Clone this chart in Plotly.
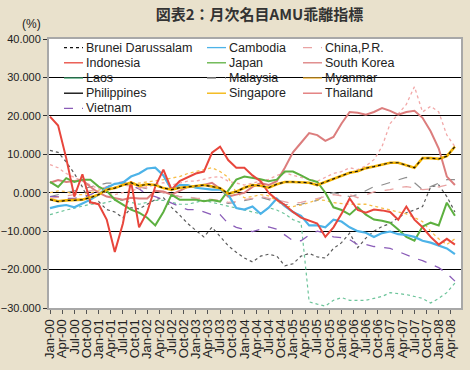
import plotly.graph_objects as go

# month index (0 = Jan-00), sampled every two months up to May-08
months = list(range(0, 101, 2))

tick_pos = list(range(0, 100, 3))
tick_labels = ["Jan-00", "Apr-00", "Jul-00", "Oct-00", "Jan-01", "Apr-01", "Jul-01", "Oct-01",
               "Jan-02", "Apr-02", "Jul-02", "Oct-02", "Jan-03", "Apr-03", "Jul-03", "Oct-03",
               "Jan-04", "Apr-04", "Jul-04", "Oct-04", "Jan-05", "Apr-05", "Jul-05", "Oct-05",
               "Jan-06", "Apr-06", "Jul-06", "Oct-06", "Jan-07", "Apr-07", "Jul-07", "Oct-07",
               "Jan-08", "Apr-08"]

brunei = [-1.8, -2.3, -2.0, -2.0, -1.8, -1.3, -0.5, 0.8, 1.2, 2.0, 2.6, 1.8, 2.2, 2.0, 1.2, 0.8,
          1.3, 1.5, 1.8, 2.0, 1.6, 1.2, -0.3, 0.3, 1.3, 2.0, 1.8, 1.3, 2.2, 2.8, 2.8, 2.7, 2.6,
          2.0, 2.8, 3.5, 4.5, 5.2, 5.6, 6.4, 6.8, 7.3, 7.8, 7.8, 7.2, 6.5, 9.0, 9.0, 8.8, 9.5, 12.0]
singapore = [-1.7, -2.2, -2.0, -1.9, -1.8, -1.2, -0.5, 0.8, 1.2, 2.0, 2.6, 1.8, 2.2, 2.0, 1.2, 0.8,
             1.3, 1.5, 1.8, 2.0, 1.6, 1.2, -0.3, 0.3, 1.3, 2.0, 1.8, 1.3, 2.2, 2.8, 2.8, 2.7, 2.6,
             2.0, 2.8, 3.5, 4.5, 5.2, 5.6, 6.4, 6.8, 7.3, 7.8, 7.8, 7.2, 6.5, 9.0, 9.0, 8.8, 9.5, 12.0]
cambodia = [-4.0, -3.5, -3.2, -3.8, -2.8, -1.8, -0.5, 1.3, 2.3, 2.6, 4.2, 5.0, 6.3, 6.5, 4.5, 0.8,
            2.0, 2.0, 1.3, 1.0, 0.8, 0.8, -0.5, -4.0, -4.4, -3.6, -5.5, -3.9, -1.5, -3.5, -5.0, -6.0,
            -8.5, -8.5, -9.0, -7.0, -7.5, -9.0, -10.0, -10.4, -11.5, -10.5, -10.1, -10.8, -11.0,
            -11.5, -12.5, -13.0, -13.8, -14.5, -16.0]
china = [-1.5, -1.2, -0.8, -0.5, 0.0, 0.5, 1.0, 1.5, 2.0, 2.0, 1.8, 1.5, 1.2, 0.5, 0.0, -0.5,
         -1.0, -1.0, -1.5, -1.5, -1.8, -2.0, -2.5, -2.3, -1.8, -1.5, -1.0, -1.5, -2.0, -2.5, -2.8,
         -2.5, -2.0, -1.5, -1.0, -0.5, -0.8, -0.5, -1.3, -0.5, 0.2, 0.5, 0.8, 1.3, 1.6, 1.2, 0.8,
         1.0, 1.5, 2.0, 2.5]
indonesia = [19.8, 17.5, 9.0, -1.0, 4.8, -2.5, -3.0, -7.0, -15.4, -8.0, 3.0, -9.0, -5.0, 1.6, 6.0,
             0.8, 3.0, 4.0, 5.0, 5.5, 10.4, 12.0, 8.5, 6.5, 6.5, 4.5, 3.0, 0.0, -1.8, -3.2, -5.0,
             -6.5, -7.2, -8.0, -11.5, -9.0, -5.5, -1.5, -4.5, -5.2, -4.4, -4.6, -5.0, -7.0, -3.6,
             -7.0, -9.0, -11.5, -13.5, -12.0, -13.5]
japan = [2.8, 1.5, 3.8, 2.8, 3.4, 3.4, 1.6, 0.5, -1.8, -3.0, -4.4, -5.2, -6.5, -8.5, -5.0, -0.5,
         -1.8, -1.8, -1.8, -2.2, -1.9, -2.3, 0.5, 3.4, 4.2, 3.9, 3.5, 3.0, 3.4, 5.5, 5.5, 4.5, 3.4,
         2.8, 0.0, -3.8, -4.5, -5.7, -3.8, -5.7, -7.0, -7.3, -7.8, -9.6, -11.5, -12.5, -8.8, -7.8,
         -8.5, -2.6, -6.0]
korea = [2.6, 3.3, 2.8, 3.0, 3.3, 1.5, 0.0, -1.0, -1.5, -1.8, -1.3, -1.5, -1.5, 0.5, 0.3, -0.5,
         0.5, 1.5, 1.5, 2.0, 2.6, 1.0, -1.0, -0.5, 0.0, 1.5, 2.5, 2.0, 3.0, 6.5, 10.5, 13.0, 15.5,
         15.0, 13.5, 14.5, 18.0, 21.0, 20.8, 20.3, 21.0, 22.0, 21.3, 20.3, 21.0, 21.3, 19.5, 16.0,
         11.5, 4.2, 2.0]
laos = [-5.7, -5.0, -4.5, -4.0, -3.5, -3.0, -3.0, -2.5, -2.0, -2.0, -2.5, -3.0, -2.5, -2.0, -2.0,
        -2.5, -3.0, -3.0, -2.5, -2.0, -2.5, -3.0, -3.5, -4.0, -4.5, -5.0, -5.5, -3.9, -4.5, -5.5,
        -7.0, -7.8, -28.4, -29.0, -29.5, -28.0, -27.3, -28.0, -28.0, -28.0, -27.5, -27.0, -26.0,
        -26.3, -26.5, -27.0, -27.5, -28.7, -27.5, -26.0, -23.5]
malaysia = [-1.0, -0.5, 0.0, 0.5, 1.0, 1.5, 2.0, 2.5, 2.5, 2.5, 2.0, 1.5, 1.0, 0.5, 0.0, -0.5,
            -1.0, -1.2, -1.5, -1.8, -2.0, -2.2, -2.8, -2.5, -2.0, -1.5, -1.2, -1.8, -2.3, -3.0,
            -3.2, -3.0, -2.5, -2.0, -0.5, 0.0, -0.5, -1.0, -0.5, 0.5, 1.6, 2.0, 2.6, 3.4, 4.0, 2.6,
            0.8, 1.6, 2.6, 3.4, 3.4]
myanmar = [0.0, 0.5, 0.3, -0.5, -0.5, 0.0, 0.5, 1.0, 1.5, 2.0, 2.5, 2.5, 2.8, 3.0, 3.4, 3.8, 4.2,
           5.0, 5.5, 6.0, 6.5, 5.5, 4.0, 0.0, -1.3, -1.0, -0.5, -0.8, -2.0, -3.6, -3.6, -3.2, -2.6,
           -1.8, -2.0, -2.6, -2.8, -3.0, -3.0, -3.0, -3.5, -4.0, -4.5, -5.0, -5.5, -6.5, -7.5,
           -10.0, -12.0, -13.5, -12.0]
philippines = [11.0, 10.5, 8.0, 5.0, 1.5, -3.0, -2.3, -4.4, -5.0, -6.5, -3.9, -4.2, -3.0, -1.8,
               -1.3, -3.8, -5.8, -8.0, -9.8, -11.5, -9.0, -11.5, -13.8, -15.5, -17.0, -18.0, -16.5,
               -16.0, -16.5, -19.0, -18.5, -16.5, -15.8, -16.7, -17.0, -14.5, -13.0, -10.5, -14.3,
               -11.8, -10.0, -8.8, -8.0, -6.5, -5.2, -4.5, -3.6, 1.5, 2.0, -1.0, -5.0]
thailand = [7.3, 6.5, 5.0, 4.0, 3.0, 2.0, 1.0, 0.0, -0.5, 0.0, 0.5, 1.0, 1.5, 2.0, 2.6, 2.0, 2.5,
            3.0, 3.0, 3.5, 4.0, 4.2, 3.0, 2.5, 2.0, 2.5, 3.0, 3.5, 4.5, 5.2, 4.5, 4.0, 3.5, 3.0,
            4.0, 5.0, 5.5, 6.5, 6.0, 7.0, 8.6, 12.0, 18.0, 20.5, 23.0, 27.6, 21.0, 22.5, 21.0,
            15.0, 12.0]
vietnam = [-1.0, -1.0, -1.5, -1.5, -1.0, -0.5, 0.5, 1.5, 2.5, 2.8, 2.0, 1.0, -0.5, -1.0, -1.8,
           -2.8, -3.6, -4.4, -4.4, -5.0, -5.7, -5.7, -8.0, -9.0, -9.6, -10.1, -9.5, -8.9, -9.5,
           -10.9, -12.5, -12.5, -11.0, -10.0, -10.5, -11.5, -11.7, -12.2, -13.5, -13.5, -14.0,
           -14.2, -14.5, -15.3, -16.2, -17.0, -17.7, -18.5, -19.5, -21.0, -23.0]

# name, values, colour, width, dash  (legend order: row-major, 3 columns)
series = [
    ("Brunei Darussalam", brunei, "#111111", 1.2, "dot"),
    ("Cambodia", cambodia, "#4DB3E8", 2.2, "solid"),
    ("China,P.R.", china, "#E9A3A3", 1.3, "dash"),
    ("Indonesia", indonesia, "#E8463C", 2.0, "solid"),
    ("Japan", japan, "#5DB040", 2.0, "solid"),
    ("South Korea", korea, "#DC7D7D", 2.0, "solid"),
    ("Laos", laos, "#6CC49A", 1.2, "dot"),
    ("Malaysia", malaysia, "#8E8E8E", 1.2, "dash"),
    ("Myanmar", myanmar, "#F7BE4A", 1.3, "dot"),
    ("Philippines", philippines, "#5A5A5A", 1.2, "dot"),
    ("Singapore", singapore, "#F2B200", 2.6, "solid"),
    ("Thailand", thailand, "#F2A8A8", 1.3, "dot"),
    ("Vietnam", vietnam, "#8A5CB8", 1.3, "dash"),
]

# legend key styles (as drawn in the reference legend)
legend_style = {
    "Brunei Darussalam": ("#111111", "dot"), "Cambodia": ("#4DB3E8", "solid"),
    "China,P.R.": ("#E9A3A3", "dash"), "Indonesia": ("#E8463C", "solid"),
    "Japan": ("#5DB040", "solid"), "South Korea": ("#DC7D7D", "solid"),
    "Laos": ("#3FA070", "solid"), "Malaysia": ("#8E8E8E", "dash"),
    "Myanmar": ("#F0B030", "solid"), "Philippines": ("#000000", "solid"),
    "Singapore": ("#F2B200", "solid"), "Thailand": ("#E07070", "solid"),
    "Vietnam": ("#8A5CB8", "dash"),
}

draw_order = ["Laos", "Philippines", "Malaysia", "Vietnam", "China,P.R.", "Thailand", "Myanmar",
              "South Korea", "Japan", "Cambodia", "Indonesia", "Singapore", "Brunei Darussalam"]

fig = go.Figure()
lookup = {s[0]: s for s in series}
for name in draw_order:
    nm, vals, col, w, dash = lookup[name]
    fig.add_trace(go.Scatter(
        x=months, y=vals, name=nm, mode="lines",
        line=dict(color=col, width=w, dash=dash), showlegend=False,
    ))

# plot-area geometry in pixels (for the hand-laid legend block)
W, H = 470, 370
ML, MR, MT, MB = 49, 9, 39, 62
PW, PH = W - ML - MR, H - MT - MB


def px_x(p):
    return (p - ML) / PW


def px_y(p):
    return 1 - (p - MT) / PH


col_line_x = [64, 207, 303]
row_y0, row_dy = 47.6, 15.2

shapes = [dict(type="rect", xref="paper", yref="y", x0=0.0, x1=px_x(381), y0=29.0, y1=31.0,
               fillcolor="#FFFFFF", line=dict(width=0), layer="between")]
annotations = [dict(text="(%)", xref="paper", yref="paper", x=px_x(31), y=px_y(24),
                    xanchor="center", yanchor="middle",
                    showarrow=False, font=dict(size=12, color="#222222"))]
for i, (nm, *_rest) in enumerate(series):
    r, c = divmod(i, 3)
    yy = px_y(row_y0 + r * row_dy)
    x0 = col_line_x[c]
    lc, ld = legend_style[nm]
    shapes.append(dict(type="line", xref="paper", yref="paper", x0=px_x(x0), x1=px_x(x0 + 19),
                       y0=yy, y1=yy, line=dict(color=lc, width=1.3, dash=ld), layer="above"))
    annotations.append(dict(text=nm, xref="paper", yref="paper", x=px_x(x0 + 20), y=yy,
                            xanchor="left", yanchor="middle", showarrow=False,
                            font=dict(size=12.5, color="#222222")))

fig.update_layout(
    width=W, height=H,
    margin=dict(l=ML, r=MR, t=MT, b=MB, autoexpand=False),
    paper_bgcolor="#E9E1CC",
    plot_bgcolor="#FFFFFF",
    showlegend=False,
    font=dict(family="Liberation Sans, Arial, sans-serif", color="#222222"),
    title=dict(text="<b>図表2：月次名目AMU乖離指標</b>", x=0.552, xanchor="center",
               y=0.96, yanchor="middle",
               font=dict(family="Noto Sans CJK JP", size=15, color="#333333")),
    xaxis=dict(range=[-0.25, 101.5], tickmode="array", tickvals=tick_pos, ticktext=tick_labels,
               tickangle=-90, tickfont=dict(size=13, color="#222222"),
               ticks="outside", ticklen=4, tickcolor="#555555", automargin=False,
               showgrid=False, zeroline=False,
               showline=True, linecolor="#A8A8A8", linewidth=2, mirror=True),
    yaxis=dict(range=[-30, 40], dtick=10, tickformat=".3f", automargin=False,
               tickfont=dict(size=11, color="#222222"),
               ticks="outside", ticklen=4, tickcolor="#333333",
               showgrid=True, gridcolor="#000000", gridwidth=1.3, zeroline=False,
               showline=True, linecolor="#A8A8A8", linewidth=2, mirror=True),
    shapes=shapes,
    annotations=annotations,
)

fig.write_html("out.html", config={"displayModeBar": False},
               post_script="document.body.style.margin='0';")
